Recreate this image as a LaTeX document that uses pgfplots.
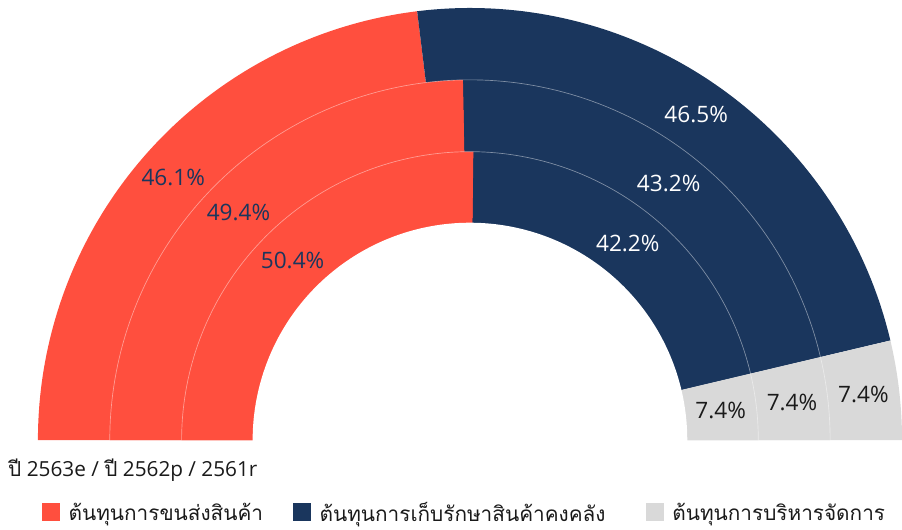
\documentclass[border=0pt]{standalone}
\usepackage{pgfplots}
\usepackage{pgfplotstable}
\pgfplotsset{compat=1.18}
\usepackage{fontspec}
\setmainfont{Open Sans}
\newfontfamily\thaifont[Script=Thai]{Loma}
\definecolor{cred}{HTML}{FF4F3E}
\definecolor{cnavy}{HTML}{1A365D}
\definecolor{cgray}{HTML}{D9D9D9}
\definecolor{ctext}{HTML}{1A1A1A}

% one row per ring: outer radius, label radius, shares (%)
\pgfplotstableread{
rout rmid red navy gray
433 397 46.1 46.5 7.4
361 325 49.4 43.2 7.4
289 253 50.4 42.2 7.4
}\ringdata

\newcommand\cx{471}
\newcommand\cy{-441}
\newcommand\ringwedge[4]{% radius, from angle, to angle, colour
  \addplot[fill=#4, draw=none, domain=#2:#3, samples=120, forget plot]
    ({\cx+#1*cos(x)},{\cy+#1*sin(x)}) -- (axis cs:\cx,\cy) -- cycle;}

\begin{document}
\begin{tikzpicture}
\begin{axis}[
  x=0.75pt, y=0.75pt,
  xmin=0, xmax=902, ymin=-531, ymax=0,
  hide axis, clip=false,
  legend style={at={(axis cs:42,-515)}, anchor=west, draw=none, fill=none,
    inner sep=0pt, legend columns=3, nodes={inner sep=0pt, text depth=3pt},
    font=\thaifont\fontsize{15.6}{18}\selectfont, text=ctext,
    /tikz/every odd column/.append style={column sep=6.4pt},
    /tikz/every even column/.append style={column sep=0pt}},
  legend image code/.code={\fill[#1] (0pt,-5.5pt) rectangle (13.5pt,8pt);},
]
\path (axis cs:0,0) rectangle (axis cs:902,-531);

\pgfplotsforeachungrouped \i in {0,1,2}{%
  \pgfplotstablegetelem{\i}{rout}\of\ringdata \let\vR\pgfplotsretval
  \pgfplotstablegetelem{\i}{red}\of\ringdata \let\vA\pgfplotsretval
  \pgfplotstablegetelem{\i}{navy}\of\ringdata \let\vB\pgfplotsretval
  \pgfmathsetmacro\angA{180-1.8*\vA}%
  \pgfmathsetmacro\angB{180-1.8*(\vA+\vB)}%
  \edef\cmd{\noexpand\ringwedge{\vR}{\angA}{180}{cred}%
            \noexpand\ringwedge{\vR}{\angB}{\angA}{cnavy}%
            \noexpand\ringwedge{\vR}{0}{\angB}{cgray}}%
  \cmd
}
\addplot[fill=white, draw=white, line width=1.2pt, domain=0:180, samples=150, forget plot]
  ({\cx+217*cos(x)},{\cy+217*sin(x)}) -- cycle;
\addplot[white, opacity=0.45, line width=0.5pt, domain=0:180, samples=150, forget plot]
  ({\cx+361*cos(x)},{\cy+361*sin(x)});
\addplot[white, opacity=0.45, line width=0.5pt, domain=0:180, samples=150, forget plot]
  ({\cx+289*cos(x)},{\cy+289*sin(x)});

\pgfplotsforeachungrouped \i in {0,1,2}{%
  \pgfplotstablegetelem{\i}{rmid}\of\ringdata \let\vM\pgfplotsretval
  \pgfplotstablegetelem{\i}{red}\of\ringdata \let\vA\pgfplotsretval
  \pgfplotstablegetelem{\i}{navy}\of\ringdata \let\vB\pgfplotsretval
  \pgfplotstablegetelem{\i}{gray}\of\ringdata \let\vC\pgfplotsretval
  \pgfmathsetmacro\mA{180-0.9*\vA}%
  \pgfmathsetmacro\mB{180-1.8*\vA-0.9*\vB}%
  \pgfmathsetmacro\mC{180-1.8*(\vA+\vB)-0.9*\vC}%
  \pgfmathsetmacro\xA{\cx+\vM*cos(\mA)}\pgfmathsetmacro\yA{\cy+\vM*sin(\mA)}%
  \pgfmathsetmacro\xB{\cx+\vM*cos(\mB)}\pgfmathsetmacro\yB{\cy+\vM*sin(\mB)}%
  \pgfmathsetmacro\xC{\cx+\vM*cos(\mC)}\pgfmathsetmacro\yC{\cy+\vM*sin(\mC)}%
  \edef\cmd{%
    \noexpand\node[text=cnavy, font=\noexpand\fontsize{17}{20}\noexpand\selectfont] at (axis cs:\xA,\yA) {\vA\noexpand\%};%
    \noexpand\node[text=white, font=\noexpand\fontsize{17}{20}\noexpand\selectfont] at (axis cs:\xB,\yB) {\vB\noexpand\%};%
    \noexpand\node[text=ctext, font=\noexpand\fontsize{17}{20}\noexpand\selectfont] at (axis cs:\xC,\yC) {\vC\noexpand\%};}%
  \cmd
}

\node[anchor=base west, inner sep=0pt, text=ctext, font=\fontsize{15.6}{18}\selectfont]
  at (axis cs:8,-478) {{\thaifont ปี} 2563e / {\thaifont ปี} 2562p / 2561r};

\addlegendimage{fill=cred, draw=none}
\addlegendentry[text width=168.75pt]{ต้นทุนการขนส่งสินค้า}
\addlegendimage{fill=cnavy, draw=none}
\addlegendentry[text width=245.25pt]{ต้นทุนการเก็บรักษาสินค้าคงคลัง}
\addlegendimage{fill=cgray, draw=none}
\addlegendentry{ต้นทุนการบริหารจัดการ}
\end{axis}
\end{tikzpicture}
\end{document}
